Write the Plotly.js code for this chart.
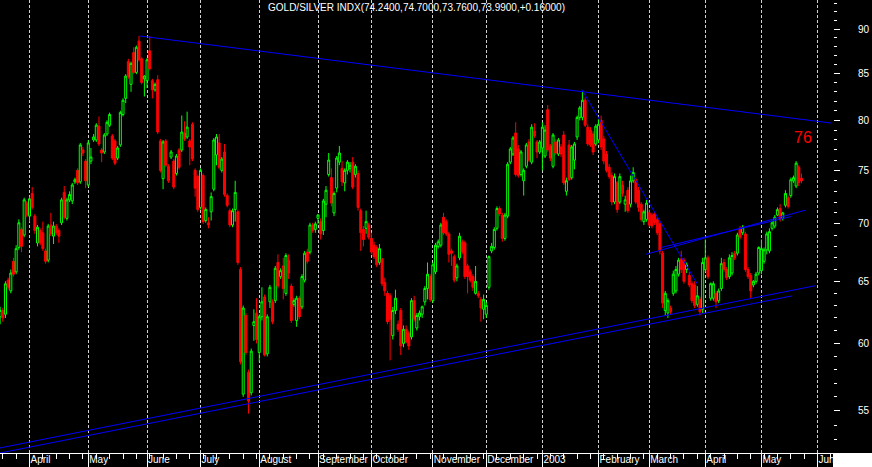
<!DOCTYPE html>
<html>
<head>
<meta charset="utf-8">
<script src="https://cdn.plot.ly/plotly-3.0.1.min.js"></script>
<style>
html,body{margin:0;padding:0;background:#000;}
#chart{width:872px;height:467px;}
</style>
</head>
<body>
<div id="chart"></div>
<script>
// ---- daily OHLC, Gold/Silver index, mid-March 2002 .. late May 2003 (trading-day index) ----
const openP = [
 62.1,62.6,62.3,65.1,64.2,66.7,65.8,67.9,69.5,69.0,71.9,
 70.7,72.8,70.7,68.3,69.4,69.2,67.6,66.8,69.9,68.9,69.8,69.4,70.1,72.9,70.5,72.2,72.1,73.9,75.0,73.9,77.0,75.9,
 73.6,75.9,78.0,78.0,79.4,77.0,76.8,78.6,79.5,78.4,77.9,76.2,77.5,80.6,82.3,86.3,83.8,87.3,85.1,88.6,86.6,84.4,
 84.2,87.5,84.2,83.2,84.3,77.9,74.2,77.9,75.4,76.3,75.9,74.7,77.0,77.0,78.7,78.3,77.9,79.6,75.0,74.4,
 71.5,74.5,70.3,70.1,71.1,73.2,76.5,77.7,75.0,76.8,72.6,71.2,69.9,71.3,71.1,66.0,56.2,62.2,57.8,56.3,61.4,62.4,
 59.3,62.1,63.7,59.2,63.3,63.3,63.4,66.6,65.4,66.3,64.0,66.8,64.6,63.1,61.8,63.6,62.9,65.1,67.5,67.5,69.9,69.5,
 70.5,70.2,69.4,71.8,74.6,74.3,71.0,73.3,75.8,75.2,73.8,75.0,75.2,75.8,74.6,74.7,71.2,69.5,69.6,69.9,
 68.7,68.1,67.9,66.6,66.9,64.9,64.0,63.8,60.6,62.6,61.5,62.6,60.0,61.1,60.8,60.5,63.4,61.2,62.1,62.3,63.3,64.4,65.4,
 63.4,65.8,68.0,68.1,70.6,70.2,69.1,67.6,67.1,65.3,67.0,68.4,68.3,66.3,65.8,65.4,64.0,64.0,63.5,62.7,
 62.3,64.5,67.6,67.9,69.6,71.4,70.8,68.7,70.7,75.8,76.6,78.7,77.1,74.6,74.0,75.4,77.8,75.8,78.9,77.8,76.8,
 77.2,76.4,81.1,77.4,75.4,77.8,76.6,77.3,78.5,73.0,77.5,74.3,76.0,78.3,80.3,80.3,82.1,79.3,79.0,78.6,77.6,
 78.0,80.0,78.1,76.6,75.3,74.5,72.0,73.8,72.0,73.6,71.8,73.1,71.8,74.0,74.1,73.1,71.8,70.2,70.4,
 71.0,70.8,70.9,70.4,70.0,67.4,62.6,62.4,62.8,64.0,64.2,65.6,66.9,66.8,66.0,65.5,64.8,64.7,63.1,63.5,62.7,
 66.0,67.0,63.6,63.6,64.0,63.4,64.4,66.6,66.0,65.4,65.7,67.4,67.4,69.6,69.2,69.1,66.0,65.5,64.7,65.0,65.7,
 65.9,66.7,67.7,67.6,69.6,69.8,70.8,71.4,70.5,71.7,72.4,72.6,74.0,73.5,75.3,74.24
];
const highP = [
 62.9,62.8,65.0,65.3,66.0,67.0,68.1,70.4,69.7,72.4,72.1,
 72.5,73.4,70.9,69.9,69.6,70.2,67.8,70.0,71.0,70.2,70.0,69.6,72.4,73.5,72.4,73.0,73.8,74.3,75.2,77.7,77.3,76.1,
 78.0,77.2,78.6,79.7,80.4,77.2,78.7,80.0,80.8,78.6,78.1,77.4,81.0,82.3,84.9,86.6,86.3,87.9,88.1,89.2,86.8,84.8,
 86.7,89.2,84.4,84.0,84.8,78.1,78.0,78.1,75.6,77.0,76.1,76.6,77.2,80.5,79.9,80.9,78.1,79.8,75.2,74.6,
 75.2,74.7,71.5,70.6,72.9,78.2,78.6,78.6,76.3,77.6,72.8,71.4,71.4,74.0,71.3,66.2,63.0,62.4,58.0,59.6,62.7,63.6,
 62.3,64.5,63.9,62.3,64.7,63.5,66.3,67.3,66.1,67.0,67.4,67.3,64.8,63.6,63.8,63.8,65.6,67.6,67.8,70.1,70.1,70.2,
 70.9,70.5,72.3,73.5,76.7,75.2,73.0,76.4,77.4,75.9,75.2,76.0,75.8,76.3,75.6,75.0,71.4,69.8,71.2,70.1,
 69.2,68.4,68.1,68.2,67.0,65.3,64.2,64.0,62.9,64.3,61.8,62.8,61.4,61.4,61.0,63.6,63.8,62.4,62.6,63.0,64.6,66.6,65.6,
 66.6,68.3,68.6,70.1,71.0,70.4,69.3,67.8,67.3,66.5,69.2,68.6,68.5,66.5,66.0,65.6,66.3,64.2,63.7,63.9,
 63.3,67.2,68.3,69.7,71.6,71.6,71.0,71.0,75.8,77.3,78.4,79.8,77.5,77.0,75.2,77.7,78.1,79.6,79.7,78.0,78.0,
 79.8,79.5,81.6,77.6,78.7,78.1,78.2,77.6,78.9,74.3,78.0,77.5,77.8,80.5,81.5,83.0,82.4,79.6,79.3,78.9,79.6,
 80.1,80.5,78.4,76.9,75.6,74.8,74.7,74.0,74.7,74.0,72.6,73.4,74.5,75.3,74.3,73.4,72.0,71.3,72.2,
 71.3,71.0,71.1,70.6,70.2,67.6,64.2,63.6,63.0,65.9,66.3,67.0,67.6,67.0,66.6,65.8,65.0,65.0,64.6,63.7,67.0,
 68.6,67.2,64.9,65.0,64.2,64.4,67.0,66.9,66.2,67.3,67.5,67.6,69.2,69.8,69.9,69.3,66.2,65.7,65.1,65.8,68.0,
 68.6,67.9,69.3,69.6,70.3,70.8,71.5,71.8,71.1,73.1,72.6,74.3,74.5,75.9,75.5,74.70
];
const lowP = [
 61.5,61.7,62.0,64.3,64.0,65.4,65.6,67.7,67.5,68.8,70.6,
 70.2,71.3,69.1,68.0,68.1,67.6,66.5,66.6,68.9,68.2,69.0,68.3,69.9,70.4,70.3,72.0,71.8,73.7,73.6,73.7,76.4,73.3,
 73.4,75.6,77.8,77.8,77.4,75.8,76.6,78.4,79.3,76.0,75.5,76.0,77.3,80.4,81.8,84.4,83.0,84.9,84.9,86.3,83.8,82.5,
 83.4,85.3,82.3,83.0,78.6,74.8,73.2,75.3,73.8,76.1,73.2,74.5,75.1,76.8,77.9,78.1,75.5,75.9,72.5,71.1,
 71.3,70.0,70.1,69.6,70.3,73.0,75.5,75.1,74.8,72.5,71.5,69.7,69.7,70.2,66.4,58.4,56.0,59.1,54.8,56.1,60.2,60.0,
 58.6,61.8,59.0,59.0,62.8,61.5,63.2,64.4,65.2,63.5,63.8,65.2,61.6,62.9,61.3,61.9,62.7,64.9,66.5,67.3,69.2,69.2,
 70.0,68.6,69.0,70.6,74.4,71.6,70.7,72.9,75.5,73.5,73.0,74.6,74.8,73.2,74.3,71.2,67.6,68.0,69.1,68.6,
 67.3,66.9,66.2,66.4,64.6,63.8,61.5,58.7,60.3,62.3,60.9,59.1,59.7,60.0,59.5,60.3,61.7,61.0,61.8,62.0,63.0,63.5,63.3,
 63.2,65.6,67.8,67.9,69.0,68.9,66.6,66.3,64.9,65.0,66.8,67.3,65.2,64.0,64.9,64.2,63.9,63.6,61.7,61.9,
 62.0,64.3,67.4,67.7,69.4,70.7,68.4,68.5,70.5,75.6,76.4,74.4,74.3,74.4,72.6,75.2,75.8,75.6,78.2,76.2,76.6,
 75.0,76.2,76.8,75.9,75.2,76.5,76.4,76.3,73.6,72.6,74.0,74.1,75.1,78.0,80.0,80.0,79.3,77.4,77.3,76.5,77.4,
 77.7,77.0,75.6,74.8,74.2,71.7,71.8,71.0,71.8,72.5,71.1,71.0,71.5,73.8,71.8,71.1,70.2,69.9,70.2,
 69.7,69.6,69.9,69.0,67.3,62.8,62.2,62.0,62.3,63.8,64.0,65.4,65.7,64.8,65.7,64.5,63.2,62.8,62.9,62.2,62.4,
 65.8,65.2,63.4,63.4,62.8,63.2,64.2,65.8,65.1,65.2,65.5,66.8,67.2,68.6,69.0,65.8,65.2,63.6,64.5,64.8,65.5,
 65.6,66.5,67.3,67.4,69.4,69.6,70.7,70.2,70.3,71.5,71.4,72.4,73.8,73.3,73.5,73.76
];
const closeP = [
 62.6,62.0,64.8,64.5,65.7,65.6,67.8,70.1,68.0,72.2,70.8,
 72.3,71.5,69.4,69.7,68.3,67.8,66.7,69.8,69.1,69.8,69.2,68.9,72.2,70.6,72.2,72.7,73.6,74.1,73.8,77.5,76.7,74.0,
 77.7,76.3,78.3,79.5,77.6,76.7,78.5,79.8,80.6,76.2,75.7,77.2,80.8,82.1,84.7,84.6,86.1,85.1,87.9,86.5,84.0,84.7,
 86.5,85.5,83.2,83.8,78.8,75.0,77.8,75.5,74.0,76.8,73.4,76.4,75.3,78.8,78.1,79.3,77.3,76.1,73.3,71.3,
 75.0,70.2,71.3,69.9,72.5,78.0,78.3,75.3,76.1,72.7,71.7,69.9,71.2,72.9,66.6,58.6,62.8,59.3,55.7,59.4,61.7,60.3,
 62.1,63.3,59.1,62.1,64.5,61.7,66.1,64.6,65.9,64.4,67.2,65.7,61.8,63.4,63.6,62.1,65.4,67.4,66.7,69.9,69.4,70.0,
 70.8,69.1,72.1,73.1,76.0,71.9,72.8,76.2,76.7,73.9,75.0,75.8,75.5,73.4,75.4,71.5,69.2,68.6,70.2,68.8,
 67.5,67.1,66.4,67.8,64.8,64.2,61.7,61.9,62.6,63.6,61.1,59.8,61.1,60.1,59.8,63.4,61.9,62.2,62.4,62.9,64.4,65.6,63.5,
 66.4,68.1,68.4,69.9,69.2,69.1,67.3,67.4,65.1,66.3,68.9,67.5,65.4,65.4,65.1,64.5,65.0,63.8,62.8,63.5,
 63.0,67.1,68.0,69.5,71.4,70.9,68.7,70.8,75.6,77.1,78.2,74.6,74.5,76.8,75.0,77.5,76.0,79.3,78.4,76.8,77.8,
 79.3,79.0,77.0,76.2,78.5,76.7,78.0,76.6,73.8,74.0,74.1,77.3,77.6,80.3,81.3,82.1,79.5,77.6,77.5,76.8,79.4,
 79.6,77.3,75.9,75.0,74.4,72.0,74.4,71.3,74.4,72.8,72.2,71.2,74.0,74.8,72.0,71.5,70.4,71.1,71.9,
 69.9,69.8,70.1,69.2,67.6,63.2,64.0,63.4,62.5,65.6,66.0,66.8,66.0,65.0,66.4,64.7,63.4,63.0,63.8,62.5,66.6,
 67.0,65.4,64.8,64.8,63.3,64.2,66.5,66.0,65.3,67.0,67.2,67.0,69.0,68.8,69.7,66.0,65.4,64.2,65.0,65.6,67.9,
 67.8,67.7,69.1,69.3,70.1,70.6,71.3,70.4,71.0,72.8,71.6,74.1,74.3,75.7,73.83,73.99
];

// ---- month boundaries (first trading day of each month) and their labels ----
const monthTicks  = [11, 33, 55, 75, 97, 119, 139, 162, 182, 203, 224, 243, 264, 285, 306];
const monthLabels = ["April","May","June","July","August","September","October","November","December","2003","February","March","April","May","June"];

// ---- price axis ticks ----
const yMajor = [55, 60, 65, 70, 75, 80, 85, 90];
const yMinorAll = [53,54,56,57,58,59,61,62,63,64,66,67,68,69,71,72,73,74,76,77,78,79,81,82,83,84,86,87,88,89,91,92,93];

// ---- hand-drawn trend lines (bar index, price) ----
const topLineX = [52.4, 311.1],  topLineY = [89.19, 79.72];
const fallLineX = [217.7, 260.9], fallLineY = [83.27, 64.82];
const chanAX = [241.8, 301.5], chanAY = [67.31, 71.25];
const chanBX = [247.3, 296.0], chanBY = [67.89, 70.66];
const baseAX = [-0.05, 305.1], baseAY = [52.43, 64.63];
const baseBX = [-0.05, 296.5], baseBY = [52.09, 63.79];

const titleText = "GOLD/SILVER INDX(74.2400,74.7000,73.7600,73.9900,+0.16000)";
const targetLabel = {x: 300.6, price: 78.2, text: "76"};

// ---- build ----
const bars = closeP.map((_, i) => i);
const weekTicks = [];
for (let v = 1; v <= 311; v += 5) weekTicks.push(v);

const lineTrace = (x, y) => ({
  type: 'scatter', mode: 'lines', x: x, y: y,
  line: {color: '#0000ff', width: 1}, hoverinfo: 'skip', showlegend: false
});

const data = [
  lineTrace(topLineX, topLineY),
  lineTrace(fallLineX, fallLineY),
  lineTrace(chanAX, chanAY),
  lineTrace(chanBX, chanBY),
  lineTrace(baseAX, baseAY),
  lineTrace(baseBX, baseBY),
  {
    type: 'candlestick', x: bars, open: openP, high: highP, low: lowP, close: closeP,
    increasing: {line: {color: '#00ff00', width: 1}, fillcolor: '#000000'},
    decreasing: {line: {color: '#ff0000', width: 1}, fillcolor: '#ff0000'},
    whiskerwidth: 0, hoverinfo: 'skip', showlegend: false
  }
];

const FONT = 'Liberation Sans, Arial, sans-serif';

const layout = {
  width: 872, height: 467,
  margin: {l: 0, r: 39, t: 0, b: 14, pad: 0},
  paper_bgcolor: '#000000', plot_bgcolor: '#000000',
  showlegend: false,
  boxgap: 0.25, boxgroupgap: 0,
  font: {family: FONT, color: '#ffffff', size: 10},
  title: {
    text: titleText, xref: 'paper', x: 0.5, xanchor: 'center',
    yref: 'container', y: 1 - 7/467, yanchor: 'middle',
    font: {family: FONT, size: 10, color: '#ffffff'}
  },
  xaxis: {
    type: 'linear', range: [-0.05, 311.8], fixedrange: true,
    rangeslider: {visible: false},
    showgrid: true, gridcolor: '#d0d0d0', gridwidth: 1, griddash: '3px,2px',
    zeroline: false,
    tickmode: 'array', tickvals: monthTicks, ticktext: monthLabels,
    tickangle: 0, automargin: false,
    ticks: 'outside', ticklen: 14, tickwidth: 1, tickcolor: '#ffffff',
    ticklabelposition: 'outside right', ticklabelstandoff: -3,
    ticklabeloverflow: 'allow',
    tickfont: {family: FONT, size: 10, color: '#ffffff'},
    showline: true, linecolor: '#ffffff', linewidth: 1,
    minor: {tickmode: 'array', tickvals: weekTicks, ticks: 'outside', ticklen: 5,
            tickwidth: 1, tickcolor: '#ffffff', showgrid: false}
  },
  yaxis: {
    type: 'log', side: 'right', fixedrange: true, automargin: false,
    range: [Math.log10(52.09), Math.log10(93.43)],
    showgrid: false, zeroline: false, showline: false,
    tickmode: 'array', tickvals: yMajor, ticktext: yMajor.map(String),
    ticks: 'outside', ticklen: 6, tickwidth: 1, tickcolor: '#ffffff',
    ticklabelstandoff: 16,
    tickfont: {family: FONT, size: 10, color: '#ffffff'},
    minor: {tickmode: 'array', tickvals: yMinorAll, ticks: 'outside', ticklen: 3,
            tickwidth: 1, tickcolor: '#ffffff', showgrid: false}
  },
  annotations: [
    {
      xref: 'x', yref: 'y', x: targetLabel.x, y: Math.log10(targetLabel.price),
      text: targetLabel.text, showarrow: false,
      font: {family: FONT, size: 16, color: '#ff0000'}
    },
    {
      xref: 'paper', yref: 'paper', x: 1, xanchor: 'left', y: 0, yanchor: 'top',
      text: ' ', showarrow: false, width: 39, height: 14, borderpad: 0, borderwidth: 0,
      bgcolor: '#ffffff', font: {size: 10, color: '#ffffff'}
    }
  ]
};

Plotly.newPlot('chart', data, layout, {displayModeBar: false, staticPlot: true});
</script>
</body>
</html>
